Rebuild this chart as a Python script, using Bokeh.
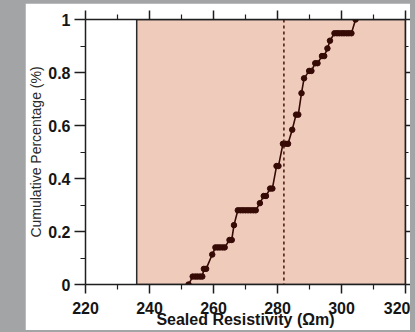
from bokeh.plotting import figure
from bokeh.models import Range1d, LinearAxis, FixedTicker, Div, Span
from bokeh.layouts import row, column
from bokeh.embed import file_html
from bokeh.resources import INLINE

# ---- data ----
x_vals = [252.2,
          253.5, 254.3, 255.0, 255.8, 256.5,
          257.0, 257.7,
          259.6,
          260.6, 261.3, 262.0, 262.8, 263.5,
          265.0, 265.7,
          266.4,
          267.6, 268.4, 269.2, 270.0, 270.8, 271.6, 272.4, 273.2,
          274.5,
          275.7, 276.4,
          277.7, 278.4,
          279.7, 280.3,
          281.7, 282.5, 283.3,
          284.6,
          285.8, 286.5,
          287.5,
          288.3,
          289.9, 290.6,
          291.8, 292.5,
          293.9, 294.6,
          295.6,
          296.4,
          297.8, 298.6, 299.3, 300.1, 300.8, 301.6, 302.3, 303.1,
          304.4]
y_vals = [0.0,
          0.03, 0.03, 0.03, 0.03, 0.03,
          0.059, 0.059,
          0.113,
          0.14, 0.14, 0.14, 0.14, 0.14,
          0.168, 0.168,
          0.224,
          0.28, 0.28, 0.28, 0.28, 0.28, 0.28, 0.28, 0.28,
          0.307,
          0.334, 0.334,
          0.362, 0.362,
          0.447, 0.447,
          0.531, 0.531, 0.531,
          0.584,
          0.641, 0.641,
          0.722,
          0.778,
          0.806, 0.806,
          0.835, 0.835,
          0.862, 0.862,
          0.891,
          0.92,
          0.948, 0.948, 0.948, 0.948, 0.948, 0.948, 0.948, 0.948,
          1.0]
mean_value = 282
shade_left = [236]
shade_right = [320]
shade_bottom = [0]
shade_top = [1]

x_major = [220, 240, 260, 280, 300, 320]
x_minor = [230, 250, 270, 290, 310]
y_major = [0, 0.2, 0.4, 0.6, 0.8, 1]
y_minor = [0.1, 0.3, 0.5, 0.7, 0.9]
y_labels = {0: "0", 0.2: "0.2", 0.4: "0.4", 0.6: "0.6", 0.8: "0.8", 1: "1"}

x_title = "Sealed Resistivity (Ωm)"
y_title = "Cumulative Percentage (%)"

# ---- styling ----
GRAY = "#a3a4a6"
INK = "#360a05"
AXIS = "#1e1e1e"
FONT = "Liberation Sans"

p = figure(width=385, height=327,
           x_range=Range1d(220, 320), y_range=Range1d(0, 1),
           output_backend="svg", toolbar_location=None,
           min_border_left=59, min_border_right=5,
           min_border_top=16, min_border_bottom=44,
           background_fill_color="white", border_fill_color="white",
           outline_line_color=None, margin=0)
p.xgrid.visible = False
p.ygrid.visible = False

p.quad(left=shade_left, right=shade_right, bottom=shade_bottom, top=shade_top,
       fill_color="#efcbbb", line_color="#2a2a2a", line_width=1.5)

p.add_layout(Span(location=mean_value, dimension="height", line_color="#4a1208",
                  line_dash="3 3", line_width=1.5))

p.line(x_vals, y_vals, line_color=INK, line_width=1.6)
p.scatter(x_vals, y_vals, size=5.5, fill_color=INK, line_color=INK)


def style(ax, show_labels):
    ax.axis_line_color = AXIS
    ax.axis_line_width = 1.5
    ax.major_tick_line_color = AXIS
    ax.minor_tick_line_color = AXIS
    ax.major_tick_line_width = 1.5
    ax.minor_tick_line_width = 1.2
    ax.major_tick_in = 0
    ax.minor_tick_in = 0
    ax.major_tick_out = 9
    ax.minor_tick_out = 5
    if show_labels:
        ax.major_label_text_font = FONT
        ax.major_label_text_font_size = "16px"
        ax.major_label_text_font_style = "bold"
        ax.major_label_text_color = "#151515"
    else:
        ax.major_label_text_font_size = "1px"
        ax.major_label_text_color = None
        ax.major_label_standoff = 0


xb = p.xaxis[0]
xb.ticker = FixedTicker(ticks=x_major, minor_ticks=x_minor)
style(xb, True)
xb.major_label_standoff = 8
xb.axis_label = x_title
xb.axis_label_text_font = FONT
xb.axis_label_text_font_size = "16px"
xb.axis_label_text_font_style = "bold"
xb.axis_label_text_color = "#151515"
xb.axis_label_standoff = -6

yl = p.yaxis[0]
yl.ticker = FixedTicker(ticks=y_major, minor_ticks=y_minor)
style(yl, True)
yl.major_tick_out = 11
yl.major_label_standoff = 4
yl.major_label_overrides = y_labels
yl.axis_label = y_title
yl.axis_label_text_font = FONT
yl.axis_label_text_font_size = "14px"
yl.axis_label_text_font_style = "normal"
yl.axis_label_text_color = "#2a2a2a"
yl.axis_label_standoff = 1

xtop = LinearAxis(ticker=FixedTicker(ticks=x_major, minor_ticks=x_minor))
style(xtop, False)
p.add_layout(xtop, "above")

yr = LinearAxis(ticker=FixedTicker(ticks=y_major, minor_ticks=y_minor))
style(yr, False)
yr.major_tick_out = 5
yr.minor_tick_out = 3
p.add_layout(yr, "right")

top_pad = Div(text="", width=415, height=3, margin=0,
              styles={"background-color": GRAY})
left_pad = Div(text="", width=25, height=327, margin=0,
               styles={"background-color": GRAY})
right_pad = Div(text="", width=5, height=327, margin=0,
                styles={"background-color": GRAY})
bottom_pad = Div(text="", width=415, height=2, margin=0,
                 styles={"background-color": GRAY})
layout = column(top_pad, row(left_pad, p, right_pad, margin=0), bottom_pad,
                margin=0, styles={"background-color": GRAY})

open("out.html", "w").write(file_html(layout, INLINE))
